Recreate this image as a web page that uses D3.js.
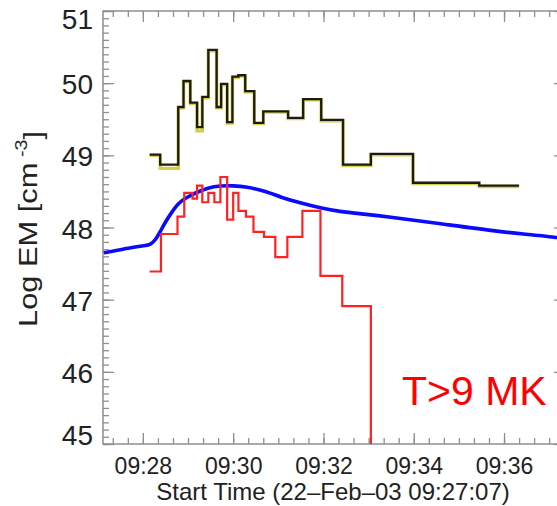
<!DOCTYPE html>
<html>
<head>
<meta charset="utf-8">
<script src="https://cdn.jsdelivr.net/npm/d3@7"></script>
<style>
  body { margin: 0; background: #fff; }
  svg { display: block; }
</style>
</head>
<body>
<svg id="chart"></svg>
<script>
// step series: bin edges (n+1) and values (n)
const blackEdges = ["09:28:09","09:28:23","09:28:47","09:28:54","09:29:03","09:29:12","09:29:19","09:29:27",
  "09:29:38","09:29:44","09:29:52","09:29:59","09:30:07","09:30:16","09:30:28","09:30:40","09:31:13",
  "09:31:33","09:31:57","09:32:26","09:33:03","09:33:59","09:35:27","09:36:20"];
const blackValues = [49.01,48.87,49.67,50.03,49.73,49.39,49.81,50.46,49.67,49.99,49.46,50.09,50.11,
  49.89,49.45,49.61,49.52,49.78,49.49,48.87,49.02,48.62,48.58];
const yellowValues = [49.01,48.83,49.67,50.03,49.73,49.35,49.81,50.46,49.67,49.99,49.46,50.09,50.11,
  49.89,49.45,49.61,49.52,49.78,49.49,48.87,49.02,48.62,48.58];

const redEdges = ["09:28:09","09:28:24","09:28:46","09:28:55","09:29:06","09:29:12","09:29:19","09:29:27",
  "09:29:35","09:29:43","09:29:52","09:30:00","09:30:07","09:30:17","09:30:27","09:30:41","09:30:56",
  "09:31:12","09:31:32","09:31:56","09:32:25","09:33:03","09:34:00"];
const redValues = [47.39,47.91,48.15,48.48,48.40,48.58,48.35,48.48,48.35,48.70,48.11,48.48,48.23,
  48.15,47.94,47.87,47.59,47.87,48.23,47.33,46.91,44.0];

// continuous curve
const blueTimes = ["09:27:08","09:27:24","09:27:44","09:28:03","09:28:10","09:28:17","09:28:23","09:28:30",
  "09:28:39","09:28:47","09:28:59","09:29:12","09:29:26","09:29:43","09:30:00","09:30:19","09:30:36",
  "09:30:49","09:31:03","09:31:29","09:31:56","09:32:22","09:32:49","09:33:25","09:34:44","09:35:55",
  "09:36:38","09:37:10","09:37:21"];
const blueValues = [47.65,47.68,47.72,47.75,47.76,47.83,47.94,48.08,48.22,48.34,48.42,48.49,48.55,48.58,
  48.58,48.56,48.52,48.48,48.42,48.34,48.27,48.22,48.19,48.15,48.04,47.94,47.90,47.86,47.85];

const yTicks = [45, 46, 47, 48, 49, 50, 51];
const xTickLabels = ["09:28", "09:30", "09:32", "09:34", "09:36"];
const timeRange = ["09:27:07", "09:37:21"];

const W = 557, H = 506;
const margin = {top: 11, left: 103, bottom: 62, right: -8};
const parse = d3.timeParse("%H:%M:%S");
const parseHM = d3.timeParse("%H:%M");
const font = "Liberation Sans, Arial, sans-serif";

const svg = d3.select("#chart").attr("width", W).attr("height", H);

const x = d3.scaleTime()
  .domain(timeRange.map(parse))
  .range([margin.left, W - margin.right]);
const y = d3.scaleLinear()
  .domain([45, 51])
  .range([H - margin.bottom, margin.top]);

svg.append("clipPath").attr("id", "clip")
  .append("rect")
  .attr("x", x.range()[0]).attr("y", y.range()[1])
  .attr("width", x.range()[1] - x.range()[0])
  .attr("height", y.range()[0] - y.range()[1]);

const axisColor = "#8f8f8f";
const textColor = "#222";

// ticks
const t0 = x.domain()[0], t1 = x.domain()[1];
const minorX = d3.timeSecond.every(20).range(t0, t1);
const majorX = xTickLabels.map(parseHM);
const minorY = d3.range(450, 511).map(d => d / 10);

function styleAxis(g) {
  g.select(".domain").remove();
  g.selectAll("line").attr("stroke", axisColor).attr("stroke-width", 1.3);
  g.selectAll("text").attr("fill", textColor).style("font-family", font);
}

// minor ticks, all four sides
svg.append("g").attr("transform", `translate(0,${y(45)})`)
  .call(d3.axisBottom(x).tickValues(minorX).tickSize(-6).tickFormat(""))
  .call(styleAxis);
svg.append("g").attr("transform", `translate(0,${y(51)})`)
  .call(d3.axisTop(x).tickValues(minorX).tickSize(-6).tickFormat(""))
  .call(styleAxis);
svg.append("g").attr("transform", `translate(${x(t0)},0)`)
  .call(d3.axisLeft(y).tickValues(minorY).tickSize(-6).tickFormat(""))
  .call(styleAxis);
svg.append("g").attr("transform", `translate(${x(t1)},0)`)
  .call(d3.axisRight(y).tickValues(minorY).tickSize(-6).tickFormat(""))
  .call(styleAxis);

// major ticks + labels
svg.append("g").attr("transform", `translate(0,${y(45)})`)
  .call(d3.axisBottom(x).tickValues(majorX).tickSize(-11).tickPadding(14).tickFormat(d3.timeFormat("%H:%M")))
  .call(styleAxis)
  .selectAll("text").style("font-size", "23px");
svg.append("g").attr("transform", `translate(0,${y(51)})`)
  .call(d3.axisTop(x).tickValues(majorX).tickSize(-11).tickFormat(""))
  .call(styleAxis);
let yAx = svg.append("g").attr("transform", `translate(${x(t0)},0)`)
  .call(d3.axisLeft(y).tickValues(yTicks).tickSize(-11).tickPadding(10).tickFormat(d3.format("d")))
  .call(styleAxis);
yAx.selectAll("text").style("font-size", "28px")
  .attr("dy", d => d == 51 ? "0.62em" : d == 45 ? "0.0em" : "0.38em");
svg.append("g").attr("transform", `translate(${x(t1)},0)`)
  .call(d3.axisRight(y).tickValues(yTicks).tickSize(-11).tickFormat(""))
  .call(styleAxis);

// frame
svg.append("rect")
  .attr("x", x(t0)).attr("y", y(51))
  .attr("width", x(t1) - x(t0)).attr("height", y(45) - y(51))
  .attr("fill", "none").attr("stroke", axisColor).attr("stroke-width", 1.5);

// data
const plot = svg.append("g").attr("clip-path", "url(#clip)");

function stepPoints(edges, values) {
  let pts = values.map((v, i) => [parse(edges[i]), v]);
  pts.push([parse(edges[edges.length - 1]), values[values.length - 1]]);
  return pts;
}
const stepLine = d3.line().curve(d3.curveStepAfter).x(d => x(d[0])).y(d => y(d[1]));
const smoothLine = d3.line().curve(d3.curveBasis).x(d => x(d[0])).y(d => y(d[1]));

plot.append("path")
  .datum(d3.zip(blueTimes.map(parse), blueValues))
  .attr("d", smoothLine)
  .attr("fill", "none").attr("stroke", "#0a0aff").attr("stroke-width", 3.6);

plot.append("path")
  .datum(stepPoints(redEdges, redValues))
  .attr("d", stepLine)
  .attr("fill", "none").attr("stroke", "#ff2222").attr("stroke-width", 2.2);

plot.append("path")
  .datum(stepPoints(blackEdges, yellowValues))
  .attr("d", stepLine)
  .attr("transform", "translate(0,0.8)")
  .attr("fill", "none").attr("stroke", "#d6d048").attr("stroke-width", 3.4);

plot.append("path")
  .datum(stepPoints(blackEdges, blackValues))
  .attr("d", stepLine)
  .attr("fill", "none").attr("stroke", "#1c1c14").attr("stroke-width", 2.3);

// labels
svg.append("text")
  .attr("x", 402).attr("y", 405)
  .attr("fill", "#ff0000")
  .style("font-family", font)
  .style("font-size", "41px")
  .text("T>9 MK");

svg.append("text")
  .attr("x", 333).attr("y", 500)
  .attr("text-anchor", "middle")
  .attr("fill", textColor)
  .style("font-family", font)
  .style("font-size", "24px")
  .text("Start Time (22–Feb–03 09:27:07)");

let yTitle = svg.append("text")
  .attr("transform", "translate(37,229) rotate(-90)")
  .attr("text-anchor", "middle")
  .attr("fill", textColor)
  .attr("textLength", 196)
  .attr("lengthAdjust", "spacingAndGlyphs")
  .style("font-family", font)
  .style("font-size", "25px");
yTitle.append("tspan").text("Log EM  [cm");
yTitle.append("tspan").attr("dy", "-0.6em").style("font-size", "16px").text(" -3");
yTitle.append("tspan").attr("dy", "0.6em").text("]");
</script>
</body>
</html>
